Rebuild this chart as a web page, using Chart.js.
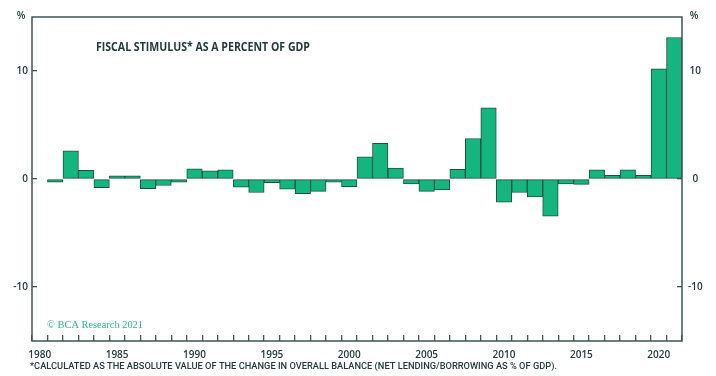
<!DOCTYPE html>
<html>
<head>
<meta charset="utf-8">
<script src="https://cdn.jsdelivr.net/npm/chart.js@4"></script>
<style>
  html, body { margin: 0; padding: 0; background: #fff; }
  #wrap { width: 716px; height: 376px; }
</style>
</head>
<body>
<div id="wrap"><canvas id="chart" width="716" height="376"></canvas></div>
<script>
// years on the x axis (1980 has no bar)
const years = [
  1980, 1981, 1982, 1983, 1984, 1985, 1986, 1987, 1988, 1989,
  1990, 1991, 1992, 1993, 1994, 1995, 1996, 1997, 1998, 1999,
  2000, 2001, 2002, 2003, 2004, 2005, 2006, 2007, 2008, 2009,
  2010, 2011, 2012, 2013, 2014, 2015, 2016, 2017, 2018, 2019,
  2020, 2021
];
// fiscal stimulus, % of GDP
const stimulus = [
  null, -0.3, 2.6, 0.8, -0.8, 0.3, 0.3, -0.9, -0.6, -0.3,
  0.95, 0.75, 0.85, -0.75, -1.25, -0.35, -0.95, -1.35, -1.15, -0.3,
  -0.7, 2.05, 3.3, 1.0, -0.45, -1.15, -1.0, 0.9, 3.75, 6.6,
  -2.15, -1.25, -1.65, -3.45, -0.45, -0.5, 0.85, 0.35, 0.85, 0.35,
  10.2, 13.1
];
const yTicks = [-10, 0, 10];

const AXIS = '#3f5559';
const TEXT = '#243a3c';

// frame and the extra texts
const decorations = {
  id: 'decorations',
  afterDraw(chart) {
    const { ctx, chartArea: a } = chart;
    ctx.save();
    ctx.strokeStyle = AXIS;
    ctx.lineWidth = 1.5;
    ctx.strokeRect(a.left, a.top, a.right - a.left, a.bottom - a.top);

    ctx.fillStyle = TEXT;
    ctx.textBaseline = 'middle';
    ctx.font = 'bold 11.5px "Open Sans"';
    ctx.textAlign = 'left';
    ctx.fillText('FISCAL STIMULUS* AS A PERCENT OF GDP', 96, 48, 214);
    ctx.font = '600 10px "Open Sans"';
    ctx.textAlign = 'center';
    ctx.fillText('%', 21, 16);
    ctx.fillText('%', 694, 16);

    ctx.textAlign = 'left';
    ctx.fillStyle = '#2eb389';
    ctx.font = '11px "Liberation Serif"';
    ctx.fillText('© BCA Research 2021', 47, 325, 96);

    ctx.fillStyle = TEXT;
    ctx.font = '500 9.4px Roboto';
    ctx.fillText('*CALCULATED AS THE ABSOLUTE VALUE OF THE CHANGE IN OVERALL BALANCE (NET LENDING/BORROWING AS % OF GDP).', 30, 367, 527);
    ctx.restore();
  }
};

const setTicks = (axis) => { axis.ticks = yTicks.map((v) => ({ value: v })); };
// short inward tick marks only
const inwardGrid = (len) => ({
  display: true,
  drawOnChartArea: false,
  drawTicks: true,
  tickLength: -len,
  color: AXIS,
  lineWidth: 1.3
});

new Chart(document.getElementById('chart'), {
  type: 'bar',
  data: {
    labels: years.map(String),
    datasets: [{
      data: stimulus,
      backgroundColor: '#14b57f',
      borderColor: '#1e5040',
      borderWidth: 1,
      borderSkipped: false,
      categoryPercentage: 1,
      barPercentage: 1,
      yAxisID: 'y'
    }]
  },
  options: {
    responsive: false,
    animation: false,
    devicePixelRatio: 1,
    layout: { padding: { top: 16, left: 0, right: 0, bottom: 0 } },
    plugins: { legend: { display: false }, tooltip: { enabled: false } },
    scales: {
      x: {
        grid: { ...inwardGrid(6), offset: true },
        border: { display: false },
        afterFit: (s) => { s.height = 35; },
        ticks: {
          autoSkip: false,
          maxRotation: 0,
          padding: 14,
          color: TEXT,
          font: { family: 'Open Sans', size: 10, weight: '600' },
          callback: (v, i) => (years[i] % 5 === 0 ? String(years[i]) : '')
        }
      },
      y: {
        position: 'left',
        min: -15,
        max: 15,
        grid: inwardGrid(5),
        border: { display: false },
        afterBuildTicks: setTicks,
        afterFit: (s) => { s.width = 32; },
        ticks: {
          padding: 9,
          color: TEXT,
          font: { family: 'Open Sans', size: 10, weight: '600' }
        }
      },
      y2: {
        position: 'right',
        min: -15,
        max: 15,
        grid: inwardGrid(5),
        border: { display: false },
        afterBuildTicks: setTicks,
        afterFit: (s) => { s.width = 34; },
        ticks: {
          padding: 11,
          crossAlign: 'center',
          color: TEXT,
          font: { family: 'Open Sans', size: 10, weight: '600' }
        }
      }
    }
  },
  plugins: [decorations]
});
</script>
</body>
</html>
